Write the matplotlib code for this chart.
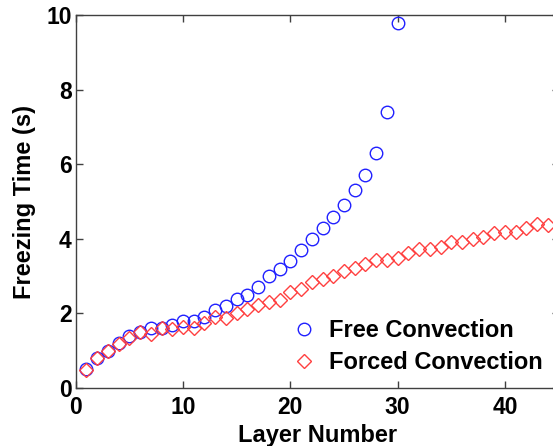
import matplotlib
matplotlib.use("Agg")
import matplotlib.pyplot as plt

# =====================================================
# DATA
# =====================================================

free_layers = list(range(1, 31))
free_time = [0.5, 0.8, 1.0, 1.2, 1.4, 1.5, 1.6, 1.6, 1.7, 1.8,
             1.8, 1.9, 2.1, 2.2, 2.4, 2.5, 2.7, 3.0, 3.2, 3.4,
             3.7, 4.0, 4.3, 4.6, 4.9, 5.3, 5.7, 6.3, 7.4, 9.8]

forced_layers = list(range(1, 45))
forced_time = [0.48, 0.81, 1.0, 1.18, 1.33, 1.49, 1.44, 1.6, 1.57, 1.64,
               1.62, 1.75, 1.91, 1.88, 2.0, 2.11, 2.22, 2.31, 2.36, 2.58,
               2.65, 2.85, 2.93, 3.0, 3.14, 3.23, 3.32, 3.43, 3.43, 3.5,
               3.61, 3.72, 3.72, 3.79, 3.92, 3.92, 4.01, 4.06, 4.15, 4.19,
               4.19, 4.28, 4.4, 4.37]

x_ticks = [0, 10, 20, 30, 40]
y_ticks = [0, 2, 4, 6, 8, 10]

# =====================================================
# PLOT
# =====================================================

plt.rcParams['font.family'] = ['Liberation Sans', 'DejaVu Sans']
plt.rcParams['font.weight'] = 'bold'

fig = plt.figure(figsize=(5.53, 4.46), dpi=100)
ax = fig.add_axes([0.137, 0.130, 0.873, 0.836])

ax.plot(free_layers, free_time, linestyle='none', marker='o',
        markersize=9, markerfacecolor='none', markeredgecolor='#2020ff',
        markeredgewidth=1.0, label='Free Convection')

ax.plot(forced_layers, forced_time, linestyle='none', marker='D',
        markersize=7, markerfacecolor='none', markeredgecolor='#ff4040',
        markeredgewidth=1.0, label='Forced Convection')

ax.set_xlim(0, 45)
ax.set_ylim(0, 10)
ax.set_xticks(x_ticks)
ax.set_yticks(y_ticks)

ax.tick_params(direction='in', length=5, width=1, labelsize=16.5,
               top=True, right=True, color='#404040')
ax.tick_params(axis='x', pad=6)
ax.tick_params(axis='y', pad=3)
for lbl in ax.get_xticklabels() + ax.get_yticklabels():
    lbl.set_fontweight('bold')

for side in ['left', 'bottom', 'top', 'right']:
    ax.spines[side].set_color('#404040')
    ax.spines[side].set_linewidth(1.0)

ax.set_xlabel("Layer Number", fontsize=17, fontweight='bold', labelpad=3)
ax.set_ylabel("Freezing Time (s)", fontsize=17, fontweight='bold', labelpad=7)

# legend without frame, placed in lower right area
ax.legend(loc='center left', frameon=False,
          prop={'weight': 'bold', 'size': 17},
          bbox_to_anchor=(0.449, 0.111), borderaxespad=0, borderpad=0,
          handlelength=1.0, handletextpad=0.56, labelspacing=0.4)

fig.savefig("out.png", dpi=100)
